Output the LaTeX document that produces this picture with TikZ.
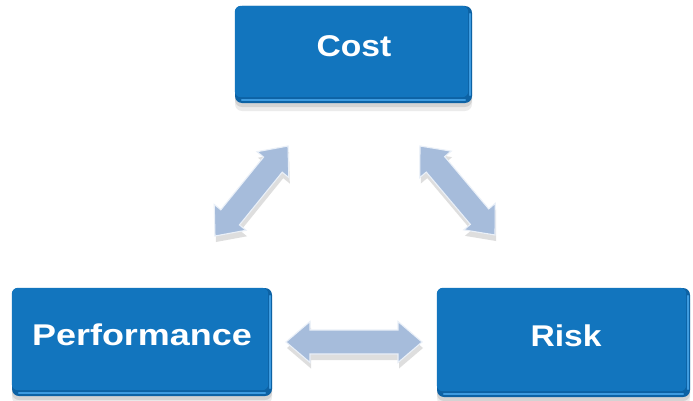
\documentclass[tikz,border=0pt]{standalone}
\usepackage{fontspec}
\setmainfont{Liberation Sans}
\usetikzlibrary{calc}
\definecolor{boxface}{HTML}{1275BE}
\definecolor{boxrim}{HTML}{0D62A4}
\definecolor{boxhi}{HTML}{3E9BE0}
\definecolor{arrfill}{HTML}{A6BCDB}
\definecolor{arredge}{HTML}{EAF0F8}
\tikzset{
  box/.style={draw=none, fill=boxrim, rounded corners=7pt, inner sep=0pt,
    preaction={fill=black, opacity=.08, transform canvas={yshift=-8pt}},
    preaction={fill=black, opacity=.10, transform canvas={yshift=-4pt}}},
  face/.style={fill=boxface, rounded corners=6pt},
  hiline/.style={draw=boxhi, line width=1.6pt, line cap=round},
  lbl/.style={text=white, font=\bfseries\fontsize{30}{36}\selectfont, inner sep=0pt, xscale=1.12},
  arrbody/.style={fill=arrfill, draw=arredge, line width=1.1pt, line join=miter},
  arrshadow/.style={fill=black, opacity=.13, draw=none}
}
\newcommand\ahl{24pt}
\newcommand\ahw{20.5pt}
\newcommand\asw{12pt}
\newcommand\arrowpath[2]{(#1)
  -- ($(#1)!\ahl!(#2)!\ahw!90:(#2)$)
  -- ($(#1)!\ahl!(#2)!\asw!90:(#2)$)
  -- ($(#2)!\ahl!(#1)!\asw!-90:(#1)$)
  -- ($(#2)!\ahl!(#1)!\ahw!-90:(#1)$)
  -- (#2)
  -- ($(#2)!\ahl!(#1)!\ahw!90:(#1)$)
  -- ($(#2)!\ahl!(#1)!\asw!90:(#1)$)
  -- ($(#1)!\ahl!(#2)!\asw!-90:(#2)$)
  -- ($(#1)!\ahl!(#2)!\ahw!-90:(#2)$)
  -- cycle}
\newcommand\blockarrow[2]{%
  \path[arrshadow, transform canvas={yshift=-6pt, xshift=1pt}] \arrowpath{#1}{#2};
  \path[arrbody] \arrowpath{#1}{#2};}
\newcommand\boxdeco[1]{%
  \path[face] ($(#1.south west)+(0,6)$) rectangle ($(#1.north east)+(-4,0)$);
  \draw[hiline] ($(#1.south west)+(7,3)$) -- ($(#1.south east)+(-7,3)$);
  \draw[hiline] ($(#1.south east)+(-2,8)$) -- ($(#1.north east)+(-2,-8)$);}
\begin{document}
\begin{tikzpicture}[x=1pt,y=1pt]
\useasboundingbox (0,0) rectangle (693,400);
\fill[white] (0,0) rectangle (693,400);
% boxes
\node[box, minimum width=237pt, minimum height=97pt] (cost) at (353.5,345.5) {};
\node[box, minimum width=260pt, minimum height=108pt] (perf) at (142,58) {};
\node[box, minimum width=253pt, minimum height=109pt] (risk) at (563.5,57.5) {};
\boxdeco{cost}
\boxdeco{perf}
\boxdeco{risk}
\node[lbl] (costt) at (354,354) {Cost};
\node[lbl, xscale=1.07] (perft) at (142,65) {Performance};
\node[lbl] (riskt) at (566,64) {Risk};
% arrow ends
\coordinate (pa1) at (215,164);
\coordinate (pa2) at (288,254);
\coordinate (ra1) at (420,254);
\coordinate (ra2) at (495,165);
\coordinate (ha1) at (286,58);
\coordinate (ha2) at (422,58);
\blockarrow{pa1}{pa2}
\blockarrow{ra1}{ra2}
\blockarrow{ha1}{ha2}
\end{tikzpicture}
\end{document}
